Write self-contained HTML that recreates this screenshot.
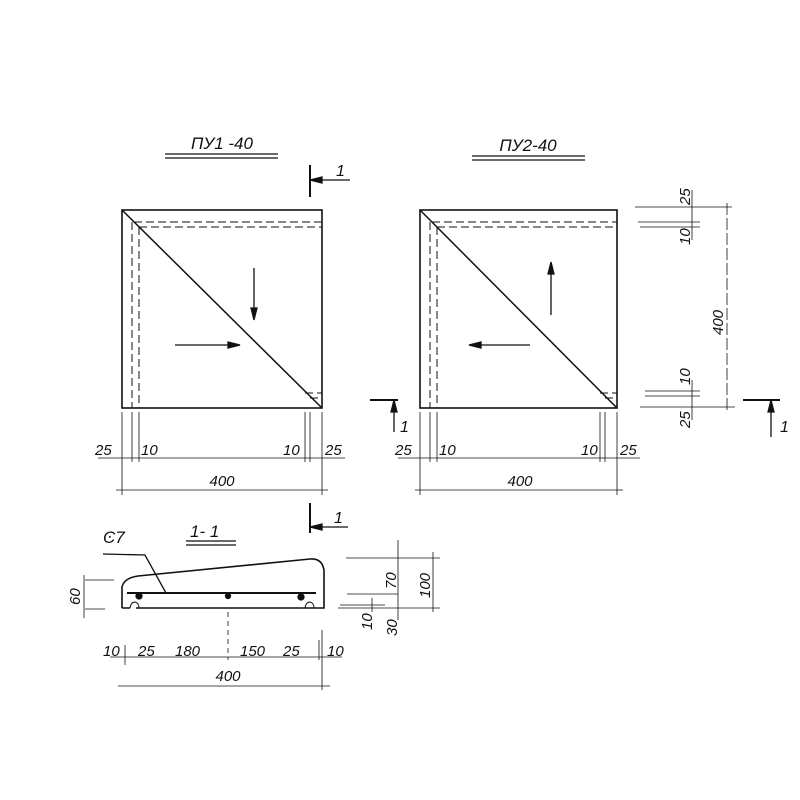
<!DOCTYPE html>
<html><head><meta charset="utf-8"><style>body{margin:0;background:#fff}svg{display:block}text{font-family:"Liberation Sans",sans-serif;font-style:italic;fill:#111}</style></head><body>
<svg width="800" height="800" viewBox="0 0 800 800" xmlns="http://www.w3.org/2000/svg" stroke="#111" fill="none" stroke-width="1.3">
<text x="222" y="149" font-size="17" text-anchor="middle" stroke="none">ПУ1 -40</text>
<line x1="165" y1="154" x2="278" y2="154"/><line x1="165" y1="158" x2="278" y2="158"/>
<text x="528" y="151" font-size="17" text-anchor="middle" stroke="none">ПУ2-40</text>
<line x1="472" y1="156" x2="585" y2="156"/><line x1="472" y1="160" x2="585" y2="160"/>
<rect x="122" y="210" width="200" height="198" stroke-width="1.6"/>
<line x1="122" y1="210" x2="322" y2="408" stroke-width="1.5"/>
<g stroke-dasharray="8,4" stroke-width="1"><line x1="134" y1="222" x2="322" y2="222"/><line x1="139" y1="227" x2="322" y2="227"/><line x1="132" y1="222" x2="132" y2="408"/><line x1="139" y1="227" x2="139" y2="408"/><line x1="305" y1="393" x2="322" y2="393"/><line x1="310" y1="398" x2="322" y2="398"/></g>
<line x1="254" y1="268" x2="254" y2="318"/><path d="M251,308 L254,320 L257,308Z" fill="#111"/>
<line x1="175" y1="345" x2="238" y2="345"/><path d="M228,342 L240,345 L228,348Z" fill="#111"/>
<line x1="310" y1="165" x2="310" y2="197" stroke-width="2"/><line x1="310" y1="180" x2="350" y2="180"/><path d="M322,177 L310,180 L322,183Z" fill="#111"/>
<text x="336" y="176" font-size="16" stroke="none">1</text>
<line x1="310" y1="503" x2="310" y2="533" stroke-width="2"/><line x1="310" y1="527" x2="348" y2="527"/><path d="M322,524 L310,527 L322,530Z" fill="#111"/>
<text x="334" y="523" font-size="16" stroke="none">1</text>
<g stroke-width="0.8"><line x1="122" y1="412" x2="122" y2="495"/><line x1="132" y1="412" x2="132" y2="462"/><line x1="139" y1="412" x2="139" y2="462"/><line x1="305" y1="412" x2="305" y2="462"/><line x1="310" y1="412" x2="310" y2="462"/><line x1="322" y1="412" x2="322" y2="495"/>
<line x1="98" y1="458" x2="345" y2="458"/><line x1="116" y1="490" x2="328" y2="490"/></g>
<text x="95" y="455" font-size="15" stroke="none">25</text><text x="141" y="455" font-size="15" stroke="none">10</text>
<text x="283" y="455" font-size="15" stroke="none">10</text><text x="325" y="455" font-size="15" stroke="none">25</text>
<text x="222" y="486" font-size="15" text-anchor="middle" stroke="none">400</text>
<rect x="420" y="210" width="197" height="198" stroke-width="1.6"/>
<line x1="420" y1="210" x2="617" y2="408" stroke-width="1.5"/>
<g stroke-dasharray="8,4" stroke-width="1"><line x1="432" y1="222" x2="617" y2="222"/><line x1="437" y1="227" x2="617" y2="227"/><line x1="430" y1="222" x2="430" y2="408"/><line x1="437" y1="227" x2="437" y2="408"/><line x1="600" y1="393" x2="617" y2="393"/><line x1="605" y1="398" x2="617" y2="398"/></g>
<line x1="551" y1="263" x2="551" y2="315"/><path d="M548,274 L551,262 L554,274Z" fill="#111"/>
<line x1="470" y1="345" x2="530" y2="345"/><path d="M481,342 L469,345 L481,348Z" fill="#111"/>
<g stroke-width="0.8"><line x1="420" y1="412" x2="420" y2="495"/><line x1="430" y1="412" x2="430" y2="462"/><line x1="437" y1="412" x2="437" y2="462"/><line x1="600" y1="412" x2="600" y2="462"/><line x1="605" y1="412" x2="605" y2="462"/><line x1="617" y1="412" x2="617" y2="495"/>
<line x1="398" y1="458" x2="640" y2="458"/><line x1="415" y1="490" x2="623" y2="490"/>
<line x1="635" y1="207" x2="732" y2="207"/><line x1="638" y1="222" x2="700" y2="222"/><line x1="640" y1="227" x2="700" y2="227"/>
<line x1="645" y1="391" x2="700" y2="391"/><line x1="645" y1="396" x2="700" y2="396"/><line x1="640" y1="407" x2="735" y2="407"/>
<line x1="692" y1="190" x2="692" y2="240"/><line x1="692" y1="380" x2="692" y2="420"/><line x1="727" y1="203" x2="727" y2="412" stroke-dasharray="12,3"/></g>
<text x="395" y="455" font-size="15" stroke="none">25</text><text x="439" y="455" font-size="15" stroke="none">10</text>
<text x="581" y="455" font-size="15" stroke="none">10</text><text x="620" y="455" font-size="15" stroke="none">25</text>
<text x="520" y="486" font-size="15" text-anchor="middle" stroke="none">400</text>
<g font-size="15" stroke="none"><text transform="translate(690,205) rotate(-90)">25</text><text transform="translate(690,245) rotate(-90)">10</text><text transform="translate(723,335) rotate(-90)">400</text><text transform="translate(690,385) rotate(-90)">10</text><text transform="translate(690,428) rotate(-90)">25</text></g>
<line x1="370" y1="400" x2="398" y2="400" stroke-width="2"/><line x1="394" y1="400" x2="394" y2="432"/><path d="M391,412 L394,400 L397,412Z" fill="#111"/>
<text x="400" y="432" font-size="16" stroke="none">1</text>
<line x1="743" y1="400" x2="780" y2="400" stroke-width="2"/><line x1="771" y1="400" x2="771" y2="437"/><path d="M768,412 L771,400 L774,412Z" fill="#111"/>
<text x="780" y="432" font-size="16" stroke="none">1</text>
<text x="190" y="537" font-size="17" stroke="none">1- 1</text>
<line x1="186" y1="541" x2="236" y2="541"/><line x1="186" y1="545" x2="236" y2="545"/>
<text x="103" y="543" font-size="17" stroke="none">Ͼ7</text>
<path d="M103,554 L145,555 L166,593"/>
<path d="M122,608 L122,587 Q124,578 138,576 L310,559 Q322,558 324,570 L324,608 L136,608 M122,608 L130,608" stroke-width="1.6"/>
<path d="M130,608 Q131,602 135,602 Q139,603 139,608 M305,608 Q306,602 310,602 Q314,603 314,608" stroke-width="1"/>
<line x1="127" y1="593" x2="316" y2="593" stroke-width="2"/>
<circle cx="139" cy="596" r="3" fill="#111"/><circle cx="228" cy="596" r="2.5" fill="#111"/><circle cx="301" cy="597" r="3" fill="#111"/>
<g stroke-width="0.8"><line x1="85" y1="580" x2="114" y2="580"/><line x1="85" y1="609" x2="105" y2="609"/><line x1="84" y1="575" x2="84" y2="618"/>
<line x1="228" y1="612" x2="228" y2="660" stroke-dasharray="5,4"/><line x1="110" y1="657" x2="342" y2="657"/>
<line x1="125" y1="645" x2="125" y2="665"/><line x1="322" y1="630" x2="322" y2="690"/><line x1="319" y1="640" x2="319" y2="660"/>
<line x1="118" y1="686" x2="330" y2="686"/>
<line x1="346" y1="558" x2="440" y2="558"/><line x1="347" y1="594" x2="398" y2="594"/><line x1="338" y1="608" x2="440" y2="608"/><line x1="340" y1="605" x2="385" y2="605"/>
<line x1="398" y1="540" x2="398" y2="620"/><line x1="433" y1="552" x2="433" y2="612"/><line x1="372" y1="598" x2="372" y2="612"/></g>
<g font-size="15" stroke="none"><text transform="translate(80,605) rotate(-90)">60</text><text transform="translate(396,589) rotate(-90)">70</text><text transform="translate(430,598) rotate(-90)">100</text><text transform="translate(372,630) rotate(-90)">10</text><text transform="translate(397,636) rotate(-90)">30</text></g>
<g font-size="15" stroke="none"><text x="103" y="656">10</text><text x="138" y="656">25</text><text x="175" y="656">180</text><text x="240" y="656">150</text><text x="283" y="656">25</text><text x="327" y="656">10</text><text x="228" y="681" text-anchor="middle">400</text></g>
</svg>
</body></html>
